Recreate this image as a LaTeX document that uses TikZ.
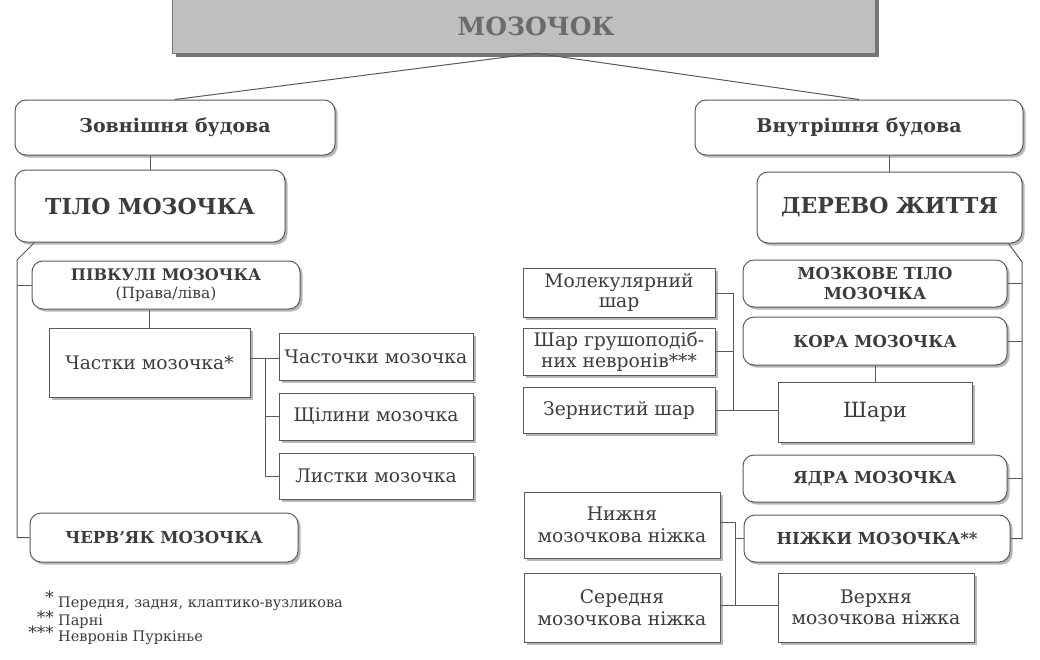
\documentclass[tikz,border=0pt]{standalone}
\usepackage{fontspec}
\setmainfont{DejaVu Serif}
\usetikzlibrary{shadows}
\definecolor{ln}{HTML}{5a5a5a}
\definecolor{tx}{HTML}{3c3c3c}
\tikzset{
  base/.style={draw=ln, line width=1pt, fill=white, align=center, text=tx, inner sep=0pt,
    drop shadow={shadow xshift=2.5pt, shadow yshift=-2.5pt, fill=black!40, opacity=0.7}},
  rbox/.style={base, rounded corners=11pt},
  sbox/.style={base},
  conn/.style={draw=ln, line width=1pt},
  hfont/.style={font=\fontsize{19}{22}\bfseries\selectfont},
  bigfont/.style={font=\fontsize{22}{26}\bfseries\selectfont},
  capfont/.style={font=\fontsize{16.5}{20}\bfseries\selectfont},
  regfont/.style={font=\fontsize{18.7}{21.5}\selectfont},
  notefont/.style={font=\fontsize{14.5}{15}\selectfont, text=tx, inner sep=0pt},
  starfont/.style={font=\fontsize{17}{17}\selectfont, text=tx, inner sep=0pt},
}
\begin{document}
\begin{tikzpicture}[x=1pt,y=-1pt]
\useasboundingbox (0,0) rectangle (1040,659);
\fill[white] (0,0) rectangle (1040,659);
% title
\node[draw=black!55, line width=0.6pt, fill=black!25, minimum width=703pt, minimum height=58pt, inner sep=0pt,
  drop shadow={shadow xshift=4pt, shadow yshift=-4pt, fill=black!60, opacity=0.9}] (title) at (523.5,24) {};
\node[font=\fontsize{25}{28}\bfseries\selectfont, text=black!58, inner sep=0pt] (titletext) at (536,26) {МОЗОЧОК};
% left column
\node[rbox, hfont, minimum width=320pt, minimum height=55pt] (zovn) at (175,127.5) {Зовнішня будова};
\node[rbox, bigfont, minimum width=270pt, minimum height=72pt] (tilo) at (150,206) {ТІЛО МОЗОЧКА};
\node[rbox, font=\fontsize{16}{18}\selectfont, minimum width=268pt, minimum height=48pt] (pivk) at (166,285)
  {\textbf{ПІВКУЛІ МОЗОЧКА}\\{\fontsize{15.5}{18}\selectfont (Права/ліва)}};
\node[sbox, regfont, minimum width=201pt, minimum height=69pt] (chastky) at (149.5,362.5) {Частки мозочка*};
\node[sbox, regfont, minimum width=194pt, minimum height=47pt] (chast1) at (376,356.5) {Часточки мозочка};
\node[sbox, regfont, minimum width=194pt, minimum height=47pt] (shch) at (376,416.5) {Щілини мозочка};
\node[sbox, regfont, minimum width=194pt, minimum height=46pt] (lyst) at (376,476) {Листки мозочка};
\node[rbox, capfont, minimum width=268pt, minimum height=49pt] (cherv) at (164,537.5) {ЧЕРВ'ЯК МОЗОЧКА};
% right column
\node[rbox, hfont, minimum width=328pt, minimum height=55pt] (vnut) at (859,127.5) {Внутрішня будова};
\node[rbox, bigfont, minimum width=265pt, minimum height=71pt] (derevo) at (889.5,207.5) {ДЕРЕВО ЖИТТЯ};
\node[rbox, capfont, minimum width=264pt, minimum height=47pt] (mozk) at (875,283.5) {МОЗКОВЕ ТІЛО\\МОЗОЧКА};
\node[rbox, capfont, minimum width=264pt, minimum height=48pt] (kora) at (875,341) {КОРА МОЗОЧКА};
\node[sbox, font=\fontsize{21}{24}\selectfont, minimum width=194pt, minimum height=60pt] (shary) at (875,412) {Шари};
\node[sbox, regfont, minimum width=192pt, minimum height=49pt] (mol) at (619,292.5) {Молекулярний\\[-2pt]шар};
\node[sbox, regfont, minimum width=192pt, minimum height=47pt] (grush) at (619,351.5) {Шар грушоподіб-\\них невронів***};
\node[sbox, regfont, minimum width=192pt, minimum height=46pt] (zern) at (619,410) {Зернистий шар};
\node[rbox, capfont, minimum width=264pt, minimum height=47pt] (yadra) at (875,478.5) {ЯДРА МОЗОЧКА};
\node[rbox, capfont, minimum width=266pt, minimum height=47pt] (nizhky) at (877,538.5) {НІЖКИ МОЗОЧКА**};
\node[sbox, regfont, minimum width=196pt, minimum height=66pt] (nyzh) at (622,525) {Нижня\\мозочкова ніжка};
\node[sbox, regfont, minimum width=196pt, minimum height=69pt] (sered) at (622,607.5) {Середня\\мозочкова ніжка};
\node[sbox, regfont, minimum width=196pt, minimum height=69pt] (verkh) at (876,607.5) {Верхня\\мозочкова ніжка};
% footnotes
\node[notefont, anchor=west] (n1) at (58,604) {Передня, задня, клаптико-вузликова};
\node[notefont, anchor=west] (n2) at (58,622) {Парні};
\node[notefont, anchor=west] (n3) at (58,638) {Невронів Пуркінье};
\node[starfont, anchor=east] (s1) at (54,597) {*};
\node[starfont, anchor=east] (s2) at (54,617) {**};
\node[starfont, anchor=east] (s3) at (54,632) {***};
% connectors
\coordinate (lt) at (17,260);
\coordinate (rt) at (1022,262);
\coordinate (bl) at (265,358);
\coordinate (bm) at (733,293);
\coordinate (bn) at (735,522);
\draw[conn] (title.south -| titletext) -- (zovn.north);
\draw[conn] (title.south -| titletext) -- (vnut.north);
\draw[conn] (zovn.south -| tilo.north) -- (tilo.north);
\draw[conn] (vnut.south -| derevo.north) -- (derevo.north);
\draw[conn] ([xshift=20pt]tilo.south west) -- (lt) -- (lt |- cherv.west) -- (cherv.west);
\draw[conn] (lt |- pivk.west) -- (pivk.west);
\draw[conn] (pivk.south -| chastky.north) -- (chastky.north);
\draw[conn] (chastky.east |- bl) -- (chast1.west |- bl);
\draw[conn] (bl) -- (bl |- lyst.west) -- (lyst.west);
\draw[conn] (bl |- shch.west) -- (shch.west);
\draw[conn] ([xshift=-14pt]derevo.south east) -- (rt) -- (rt |- nizhky.east) -- (nizhky.east);
\draw[conn] (rt |- mozk.east) -- (mozk.east);
\draw[conn] (rt |- kora.east) -- (kora.east);
\draw[conn] (rt |- yadra.east) -- (yadra.east);
\draw[conn] (kora.south) -- (kora.south |- shary.north);
\draw[conn] (mol.east |- bm) -- (bm) -- (bm |- zern.east);
\draw[conn] (grush.east) -- (bm |- grush.east);
\draw[conn] (zern.east) -- (shary.west |- zern.east);
\draw[conn] (nyzh.east |- bn) -- (bn) -- (bn |- 0,605);
\draw[conn] (sered.east |- 0,605) -- (verkh.west |- 0,605);
\draw[conn] (bn |- nizhky.west) -- (nizhky.west);
\end{tikzpicture}
\end{document}
